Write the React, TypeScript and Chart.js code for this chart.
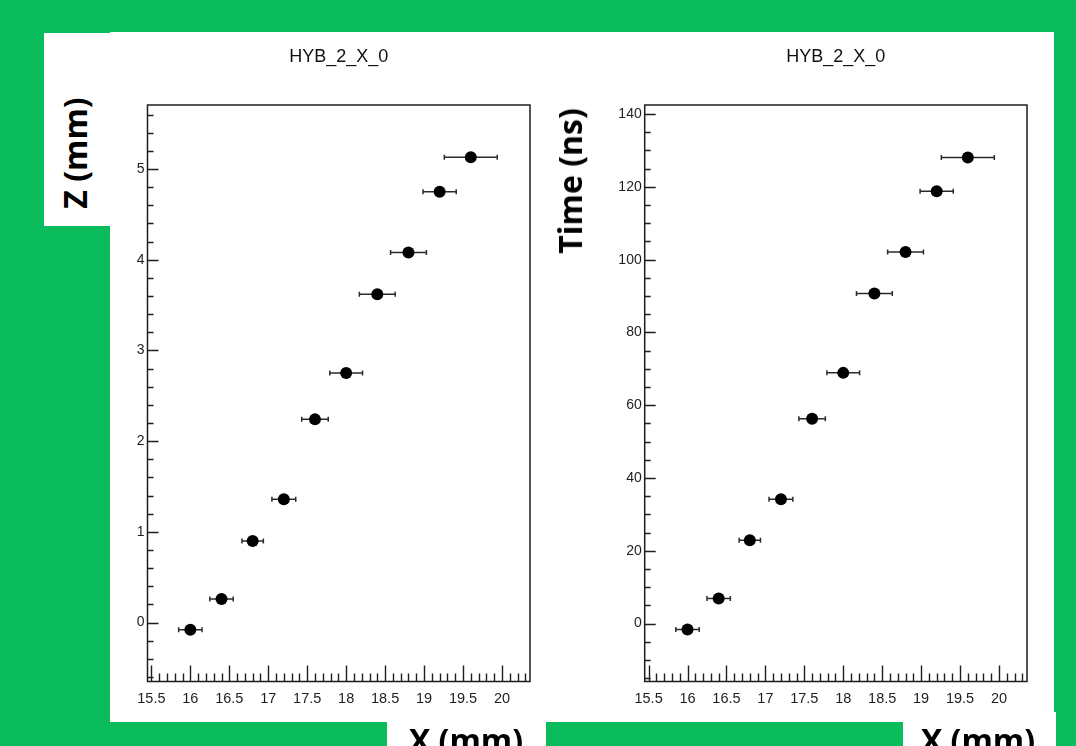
import React, { useEffect, useRef } from "react";
import { Chart, registerables } from "chart.js";

Chart.register(...registerables);

// ---------- data ----------
const plotTitle = "HYB_2_X_0";
const xPositions = [16.0, 16.4, 16.8, 17.2, 17.6, 18.0, 18.4, 18.8, 19.2, 19.6];
const xErrors = [0.15, 0.15, 0.137, 0.153, 0.17, 0.21, 0.23, 0.23, 0.213, 0.34];
const zValues = [-0.08, 0.26, 0.9, 1.36, 2.24, 2.75, 3.62, 4.08, 4.75, 5.13];
const timeValues = [-1.6, 6.9, 22.9, 34.2, 56.3, 68.9, 90.7, 102.1, 118.8, 128.1];
const xTickLabels = [15.5, 16, 16.5, 17, 17.5, 18, 18.5, 19, 19.5, 20];
const zTickLabels = [0, 1, 2, 3, 4, 5];
const timeTickLabels = [0, 20, 40, 60, 80, 100, 120, 140];
const zAxisLabel = "Z (mm)";
const timeAxisLabel = "Time (ns)";
const xAxisLabel = "X (mm)";

const GREEN = "#0ABC5B";
const FONT = "'Liberation Sans', Arial, Helvetica, sans-serif";
const INK = "#1e1e1e";

// ROOT-like frame with inward ticks
const rootFrame = {
  id: "rootFrame",
  afterDatasetsDraw(chart: any, _args: any, opts: any) {
    const { ctx, chartArea: a, scales } = chart;
    const xs = scales.x;
    const ys = scales.y;
    ctx.save();
    ctx.strokeStyle = INK;
    ctx.lineWidth = 1.5;
    ctx.strokeRect(a.left, a.top, a.right - a.left, a.bottom - a.top);
    ctx.beginPath();
    ctx.lineWidth = 1.4;
    const loop = (min: number, max: number, step: number, major: number, fn: (v: number, isMajor: boolean) => void) => {
      const k0 = Math.ceil(min / step - 1e-6);
      const k1 = Math.floor(max / step + 1e-6);
      for (let k = k0; k <= k1; k++) {
        const v = k * step;
        const r = v / major;
        fn(v, Math.abs(r - Math.round(r)) < 1e-6);
      }
    };
    loop(xs.min, xs.max, opts.xMinor, opts.xMajor, (v, mj) => {
      const px = Math.round(xs.getPixelForValue(v)) + 0.5;
      ctx.moveTo(px, a.bottom);
      ctx.lineTo(px, a.bottom - (mj ? opts.xMajorLen : opts.xMinorLen));
    });
    loop(ys.min, ys.max, opts.yMinor, opts.yMajor, (v, mj) => {
      const py = Math.round(ys.getPixelForValue(v)) + 0.5;
      ctx.moveTo(a.left, py);
      ctx.lineTo(a.left + (mj ? opts.yMajorLen : opts.yMinorLen), py);
    });
    ctx.stroke();
    ctx.restore();
  },
};

// horizontal error bars
const errorBars = {
  id: "errorBars",
  beforeDatasetsDraw(chart: any, _args: any, opts: any) {
    const { ctx, scales } = chart;
    const xs = scales.x;
    const ys = scales.y;
    const data = chart.data.datasets[0].data;
    ctx.save();
    ctx.strokeStyle = "#2a2a2a";
    ctx.lineWidth = 1.5;
    data.forEach((p: any, i: number) => {
      const e = opts.errors[i];
      const py = ys.getPixelForValue(p.y);
      const x1 = xs.getPixelForValue(p.x - e);
      const x2 = xs.getPixelForValue(p.x + e);
      ctx.beginPath();
      ctx.moveTo(x1, py);
      ctx.lineTo(x2, py);
      ctx.moveTo(x1, py - 2.5);
      ctx.lineTo(x1, py + 2.5);
      ctx.moveTo(x2, py - 2.5);
      ctx.lineTo(x2, py + 2.5);
      ctx.stroke();
    });
    ctx.restore();
  },
};

type PlotProps = {
  left: number;
  top: number;
  width: number;
  height: number;
  yValues: number[];
  yTicks: number[];
  yMin: number;
  yMax: number;
  yMinor: number;
  yMajor: number;
  yAxisWidth: number;
  rightPad: number;
  xAxisHeight: number;
};

function RootPlot(p: PlotProps) {
  const ref = useRef<HTMLCanvasElement | null>(null);
  useEffect(() => {
    if (!ref.current) return;
    const chart = new Chart(ref.current, {
      type: "scatter",
      data: {
        datasets: [
          {
            data: xPositions.map((x, i) => ({ x, y: p.yValues[i] })),
            backgroundColor: "#000",
            borderColor: "#000",
            borderWidth: 0,
            pointRadius: 6,
            pointHoverRadius: 6,
            showLine: false,
          },
        ],
      },
      options: {
        animation: false,
        responsive: false,
        devicePixelRatio: 1,
        events: [],
        layout: { padding: { left: 0, right: p.rightPad, top: 0, bottom: 0 } },
        plugins: {
          legend: { display: false },
          tooltip: { enabled: false },
          title: {
            display: true,
            text: plotTitle,
            fullSize: false,
            color: "#111",
            font: { family: FONT, size: 18, weight: "normal", lineHeight: 1.2 },
            padding: { top: 14, bottom: 37.4 },
          },
          rootFrame: {
            xMinor: 0.1,
            xMajor: 0.5,
            xMajorLen: 16,
            xMinorLen: 8,
            yMinor: p.yMinor,
            yMajor: p.yMajor,
            yMajorLen: 11,
            yMinorLen: 6,
          },
          errorBars: { errors: xErrors },
        } as any,
        scales: {
          x: {
            type: "linear",
            min: 15.45,
            max: 20.36,
            grid: { display: false, drawTicks: false },
            border: { display: false },
            afterBuildTicks: (s: any) => {
              s.ticks = xTickLabels.map((v) => ({ value: v }));
            },
            afterFit: (s: any) => {
              s.height = p.xAxisHeight;
            },
            ticks: {
              padding: 9,
              color: INK,
              font: { family: FONT, size: 14.5 },
              maxRotation: 0,
              autoSkip: false,
              callback: (v: any) => String(v),
            },
          },
          y: {
            type: "linear",
            min: p.yMin,
            max: p.yMax,
            grid: { display: false, drawTicks: false },
            border: { display: false },
            afterBuildTicks: (s: any) => {
              s.ticks = p.yTicks.map((v) => ({ value: v }));
            },
            afterFit: (s: any) => {
              s.width = p.yAxisWidth;
            },
            ticks: {
              padding: 3,
              color: INK,
              font: { family: FONT, size: 14 },
              autoSkip: false,
              callback: (v: any) => String(v),
            },
          },
        },
      } as any,
      plugins: [rootFrame, errorBars],
    });
    return () => chart.destroy();
  }, []);
  return (
    <canvas
      ref={ref}
      width={p.width}
      height={p.height}
      style={{ position: "absolute", left: p.left, top: p.top, width: p.width, height: p.height }}
    />
  );
}

function Box({ l, t, r, b }: { l: number; t: number; r: number; b: number }) {
  return <div style={{ position: "absolute", left: l, top: t, width: r - l, height: b - t, background: "#fff" }} />;
}

function Label({ text, cx, cy, rotate }: { text: string; cx: number; cy: number; rotate?: boolean }) {
  return (
    <div
      style={{
        position: "absolute",
        left: cx,
        top: cy,
        transform: `translate(-50%, -50%)${rotate ? " rotate(-90deg)" : ""}`,
        fontFamily: "'Open Sans', sans-serif",
        fontWeight: 700,
        fontSize: 32,
        lineHeight: "32px",
        whiteSpace: "nowrap",
        color: "#000",
      }}
    >
      {text}
    </div>
  );
}

export default function App() {
  return (
    <div
      style={{
        position: "fixed",
        left: 0,
        top: 0,
        width: 1076,
        height: 746,
        overflow: "hidden",
        background: GREEN,
      }}
    >
      <Box l={110} t={32} r={1054} b={722} />
      <Box l={44} t={33} r={110} b={226} />
      <Box l={387} t={715} r={546} b={746} />
      <Box l={903} t={712} r={1056} b={746} />
      <RootPlot
        left={110}
        top={32}
        width={472}
        height={690}
        yValues={zValues}
        yTicks={zTickLabels}
        yMin={-0.65}
        yMax={5.706}
        yMinor={0.2}
        yMajor={1}
        yAxisWidth={37.5}
        rightPad={52}
        xAxisHeight={40.5}
      />
      <RootPlot
        left={582}
        top={32}
        width={472}
        height={690}
        yValues={timeValues}
        yTicks={timeTickLabels}
        yMin={-15.9}
        yMax={142.5}
        yMinor={5}
        yMajor={20}
        yAxisWidth={62.7}
        rightPad={27}
        xAxisHeight={40.5}
      />
      <Label text={zAxisLabel} cx={75.3} cy={152.5} rotate />
      <Label text={timeAxisLabel} cx={570.3} cy={180.5} rotate />
      <Label text={xAxisLabel} cx={466} cy={739.7} />
      <Label text={xAxisLabel} cx={978} cy={740.4} />
    </div>
  );
}
